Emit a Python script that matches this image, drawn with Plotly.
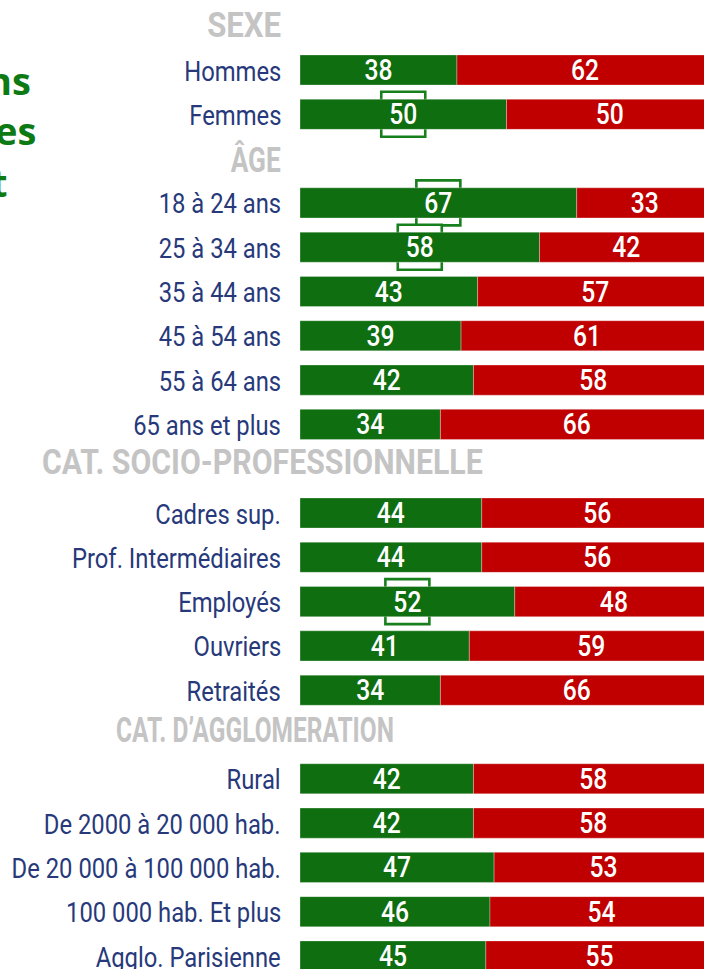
import json
import plotly.graph_objects as go

# ---- data -------------------------------------------------------------
sexe_labels = ["Hommes", "Femmes"]
sexe_green = [38, 50]
sexe_red = [62, 50]

age_labels = ["18 à 24 ans", "25 à 34 ans", "35 à 44 ans",
              "45 à 54 ans", "55 à 64 ans", "65 ans et plus"]
age_green = [67, 58, 43, 39, 42, 34]
age_red = [33, 42, 57, 61, 58, 66]

csp_labels = ["Cadres sup.", "Prof. Intermédiaires", "Employés",
              "Ouvriers", "Retraités"]
csp_green = [44, 44, 52, 41, 34]
csp_red = [56, 56, 48, 59, 66]

agglo_labels = ["Rural", "De 2000 à 20 000 hab.", "De 20 000 à 100 000 hab.",
                "100 000 hab. Et plus", "Agglo. Parisienne"]
agglo_green = [42, 42, 47, 46, 45]
agglo_red = [58, 58, 53, 54, 55]

section_titles = ["SEXE", "ÂGE", "CAT. SOCIO-PROFESSIONNELLE", "CAT. D’AGGLOMERATION"]

# ---- style ------------------------------------------------------------
GREEN = "#0f6e10"
RED = "#c00000"
BOX_GREEN = "#17801c"
NAVY = "#27397a"
GREY = "#c4c4c4"
TITLE_GREEN = "#0e7a14"
FONT = "Roboto, Liberation Sans, sans-serif"
TITLE_FONT = "Open Sans, Lato, sans-serif"

W, H = 704, 969
LEFT = 300
PX_PER_UNIT = 4.13
PITCH = 44.3
FIRST_SLOT = 25.7

# horizontal condensing applied to the text (DIN-like narrow look)
LABEL_SQUEEZE = 0.85
VALUE_SQUEEZE = 0.85

# ---- row layout: one slot per header and per category ------------------
groups = [
    (section_titles[0], sexe_labels, sexe_green, sexe_red),
    (section_titles[1], age_labels, age_green, age_red),
    (section_titles[2], csp_labels, csp_green, csp_red),
    (section_titles[3], agglo_labels, agglo_green, agglo_red),
]

header_rows = []
ys, labels, greens, reds = [], [], [], []
slot = 0
for title, labs, g, r in groups:
    header_rows.append((slot, title))
    slot += 1
    for lab, gv, rv in zip(labs, g, r):
        ys.append(slot)
        labels.append(lab)
        greens.append(gv)
        reds.append(rv)
        slot += 1

fig = go.Figure()

bar_common = dict(orientation="h", width=0.68, textposition="inside",
                  insidetextanchor="middle", textangle=0, constraintext="none",
                  textfont=dict(family=FONT, size=29, color="white", weight=500),
                  hoverinfo="skip",
                  marker_line=dict(width=0.6, color="rgba(255,255,255,0.5)"))

fig.add_trace(go.Bar(y=ys, x=greens, base=[0] * len(greens),
                     text=[str(v) for v in greens],
                     marker_color=GREEN, **bar_common))
fig.add_trace(go.Bar(y=ys, x=reds, base=greens,
                     text=[str(v) for v in reds],
                     marker_color=RED, **bar_common))

# outlined boxes behind the green label where the green share is a majority
half_w = 22 / PX_PER_UNIT
half_h = 22.5 / PITCH
shapes = []
for y, g in zip(ys, greens):
    if g >= 50:
        cx = g / 2
        shapes.append(dict(type="rect", xref="x", yref="y", layer="below",
                           x0=cx - half_w, x1=cx + half_w,
                           y0=y - half_h, y1=y + half_h,
                           line=dict(color=BOX_GREEN, width=2.6),
                           fillcolor="white"))

annotations = []
squeeze = []  # (factor, anchor) per annotation, same order

for y, lab in zip(ys, labels):
    annotations.append(dict(xref="paper", yref="y", x=0, y=y, xanchor="right",
                            yanchor="middle", xshift=-17, yshift=-1, showarrow=False,
                            text=lab, font=dict(family=FONT, size=28, color=NAVY)))
    squeeze.append([LABEL_SQUEEZE, "right"])

header_pos = [
    dict(xanchor="right", xshift=-17, yshift=0, squeeze=0.89),
    dict(xanchor="right", xshift=-17, yshift=-2, squeeze=0.75),
    dict(xanchor="left", xshift=40 - LEFT, yshift=6, squeeze=0.865),
    dict(xanchor="left", xshift=114 - LEFT, yshift=4, squeeze=0.70),
]
for (y, title), pos in zip(header_rows, header_pos):
    annotations.append(dict(xref="paper", yref="y", x=0, y=y, xanchor=pos["xanchor"],
                            yanchor="middle", xshift=pos["xshift"], yshift=pos["yshift"],
                            showarrow=False, text=title,
                            font=dict(family=FONT, size=35, color=GREY, weight=700)))
    squeeze.append([pos["squeeze"], pos["xanchor"]])

# tail of the headline on the far left
for txt, right_px, mid_px in [("ns", 33, 80), ("es", 38, 130), ("t", 10, 182)]:
    annotations.append(dict(xref="paper", yref="paper", x=0, y=1 - mid_px / H,
                            xanchor="right", yanchor="middle", xshift=right_px - LEFT,
                            showarrow=False, text=txt,
                            font=dict(family=TITLE_FONT, size=38, color=TITLE_GREEN,
                                      weight=700)))
    squeeze.append([1.0, "right"])

x_max = (W - LEFT) / PX_PER_UNIT
y_top = -FIRST_SLOT / PITCH
y_bot = (H - FIRST_SLOT) / PITCH

fig.update_layout(
    width=W, height=H,
    margin=dict(l=LEFT, r=0, t=0, b=0),
    paper_bgcolor="white", plot_bgcolor="white",
    barmode="overlay", showlegend=False,
    xaxis=dict(range=[0, x_max], visible=False, fixedrange=True),
    yaxis=dict(range=[y_bot, y_top], visible=False, fixedrange=True),
    shapes=shapes, annotations=annotations,
)

# narrow the rendered text horizontally around its anchor edge
condense_js = """
var root = document.getElementById('{plot_id}');
var ann = %s;
function narrow(el, f, anchor) {
  if (!el || f === 1) return;
  var b = el.getBBox();
  var ox = anchor === 'right' ? b.x + b.width : (anchor === 'left' ? b.x : b.x + b.width / 2);
  var t = el.getAttribute('transform') || '';
  el.setAttribute('transform', t + ' translate(' + ox + ',0) scale(' + f + ',1) translate(' + (-ox) + ',0)');
}
root.querySelectorAll('g.annotation').forEach(function (g) {
  var i = +g.getAttribute('data-index');
  if (ann[i]) narrow(g.querySelector('text.annotation-text'), ann[i][0], ann[i][1]);
});
root.querySelectorAll('text.bartext').forEach(function (el) {
  narrow(el, %s, 'middle');
});
""" % (json.dumps(squeeze), VALUE_SQUEEZE)

fig.write_html("out.html", post_script=condense_js)
